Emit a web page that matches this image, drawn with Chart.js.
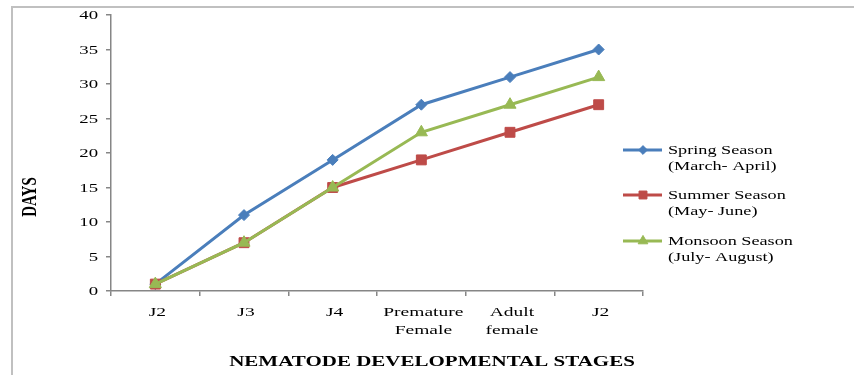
<!DOCTYPE html>
<html>
<head>
<meta charset="utf-8">
<script src="https://cdn.jsdelivr.net/npm/chart.js@4.4.1/dist/chart.umd.min.js"></script>
<style>
  html, body { margin: 0; padding: 0; background: #fff; overflow: hidden; }
  #wrap { position: relative; width: 854px; height: 375px; }
</style>
</head>
<body>
<div id="wrap"><canvas id="c" width="854" height="375"></canvas></div>
<script>
// Developmental stages on the x axis
const stages = ['J2', 'J3', 'J4', ['Premature', 'Female'], ['Adult', 'female'], 'J2'];

// Days taken to reach each stage, per season
const springDays  = [1, 11, 19, 27, 31, 35];
const summerDays  = [1, 7, 15, 19, 23, 27];
const monsoonDays = [1, 7, 15, 23, 27, 31];

// Legend entries (two lines each)
const springLabel  = ['Spring Season', '(March- April)'];
const summerLabel  = ['Summer Season', '(May- June)'];
const monsoonLabel = ['Monsoon Season', '(July- August)'];

// Value axis range
const yMin = 0, yMax = 40, yStep = 5;

const axisTitleX = 'NEMATODE DEVELOPMENTAL STAGES';
const axisTitleY = 'DAYS';

const SERIF = '"Liberation Serif", "Times New Roman", serif';
const AXIS_GRAY = '#868686';

// Text drawn with a horizontal stretch (wide serif lettering)
function wideText(ctx, text, x, y, font, align, sx) {
  ctx.save();
  ctx.font = font;
  ctx.fillStyle = '#000';
  ctx.textAlign = align;
  ctx.textBaseline = 'middle';
  ctx.translate(x, y);
  ctx.scale(sx, 1);
  ctx.fillText(text, 0, 0);
  ctx.restore();
}

const decorPlugin = {
  id: 'decor',
  beforeDraw(chart) {
    const ctx = chart.ctx;
    ctx.save();
    ctx.strokeStyle = '#c0c0c0';
    ctx.lineWidth = 2;
    ctx.beginPath();
    ctx.moveTo(12, 375);
    ctx.lineTo(12, 7);
    ctx.lineTo(854, 7);
    ctx.stroke();
    ctx.restore();
  },
  afterDraw(chart) {
    const ctx = chart.ctx;
    const xs = chart.scales.x;
    const ys = chart.scales.y;

    // value axis labels
    ys.ticks.forEach(t => {
      wideText(ctx, String(t.value), 98, ys.getPixelForValue(t.value) + 1, '12.5px ' + SERIF, 'right', 1.5);
    });

    // stage labels
    const labels = xs.getLabels();
    xs.ticks.forEach((t, i) => {
      const px = xs.getPixelForTick(i);
      const lab = labels[t.value];
      const lines = Array.isArray(lab) ? lab : [lab];
      lines.forEach((line, j) => {
        wideText(ctx, line, px + 2, 313 + j * 18, '13px ' + SERIF, 'center', 1.5);
      });
    });

    // axis titles
    wideText(ctx, axisTitleX, 432, 362, 'bold 15px ' + SERIF, 'center', 1.4);
    ctx.save();
    ctx.font = 'bold 15px ' + SERIF;
    ctx.fillStyle = '#000';
    ctx.textAlign = 'center';
    ctx.textBaseline = 'middle';
    ctx.translate(31, 197);
    ctx.scale(1.4, 1);
    ctx.rotate(-Math.PI / 2);
    ctx.fillText(axisTitleY, 0, 0);
    ctx.restore();

    // legend
    const rows = [150, 195, 241];
    chart.data.datasets.forEach((ds, i) => {
      const y = rows[i];
      ctx.save();
      ctx.strokeStyle = ds.borderColor;
      ctx.lineWidth = 3;
      ctx.beginPath();
      ctx.moveTo(623, y);
      ctx.lineTo(662, y);
      ctx.stroke();
      ctx.fillStyle = ds.backgroundColor;
      ctx.lineWidth = 1;
      Chart.helpers.drawPoint(ctx, {
        pointStyle: ds.pointStyle,
        radius: ds.pointRadius * 0.8,
        rotation: 0,
        borderWidth: 1
      }, 643, y);
      ctx.restore();
      const lines = ds.legendLines;
      wideText(ctx, lines[0], 668, y + 1, '13px ' + SERIF, 'left', 1.4);
      wideText(ctx, lines[1], 668, y + 17, '13px ' + SERIF, 'left', 1.4);
    });
  }
};

new Chart(document.getElementById('c'), {
  type: 'line',
  data: {
    labels: stages,
    datasets: [
      {
        label: springLabel.join(' '),
        legendLines: springLabel,
        data: springDays,
        borderColor: '#4a7ebb',
        backgroundColor: '#4a7ebb',
        pointStyle: 'rectRot',
        pointRadius: 5.5,
        order: 2
      },
      {
        label: summerLabel.join(' '),
        legendLines: summerLabel,
        data: summerDays,
        borderColor: '#be4b48',
        backgroundColor: '#be4b48',
        pointStyle: 'rect',
        pointRadius: 7,
        order: 1
      },
      {
        label: monsoonLabel.join(' '),
        legendLines: monsoonLabel,
        data: monsoonDays,
        borderColor: '#98b954',
        backgroundColor: '#98b954',
        pointStyle: 'triangle',
        pointRadius: 7,
        order: 0
      }
    ]
  },
  options: {
    responsive: false,
    animation: false,
    devicePixelRatio: 1,
    layout: { padding: { left: 0, top: 15, right: 211, bottom: 0 } },
    elements: {
      line: { borderWidth: 3, tension: 0, fill: false },
      point: { borderWidth: 1, hoverRadius: 7 }
    },
    plugins: {
      legend: { display: false },
      tooltip: { enabled: false },
      title: { display: false }
    },
    scales: {
      x: {
        type: 'category',
        offset: true,
        grid: {
          offset: true,
          drawOnChartArea: false,
          drawTicks: true,
          tickLength: 5,
          color: AXIS_GRAY,
          lineWidth: 1.5
        },
        border: { color: AXIS_GRAY, width: 1.5 },
        ticks: { display: false, autoSkip: false, maxRotation: 0 },
        afterFit(scale) { scale.height = 84; }
      },
      y: {
        min: yMin,
        max: yMax,
        grid: {
          drawOnChartArea: false,
          drawTicks: true,
          tickLength: 5,
          color: AXIS_GRAY,
          lineWidth: 1.5
        },
        border: { color: AXIS_GRAY, width: 1.5 },
        ticks: { display: false, stepSize: yStep },
        afterFit(scale) { scale.width = 111; }
      }
    }
  },
  plugins: [decorPlugin]
});
</script>
</body>
</html>
